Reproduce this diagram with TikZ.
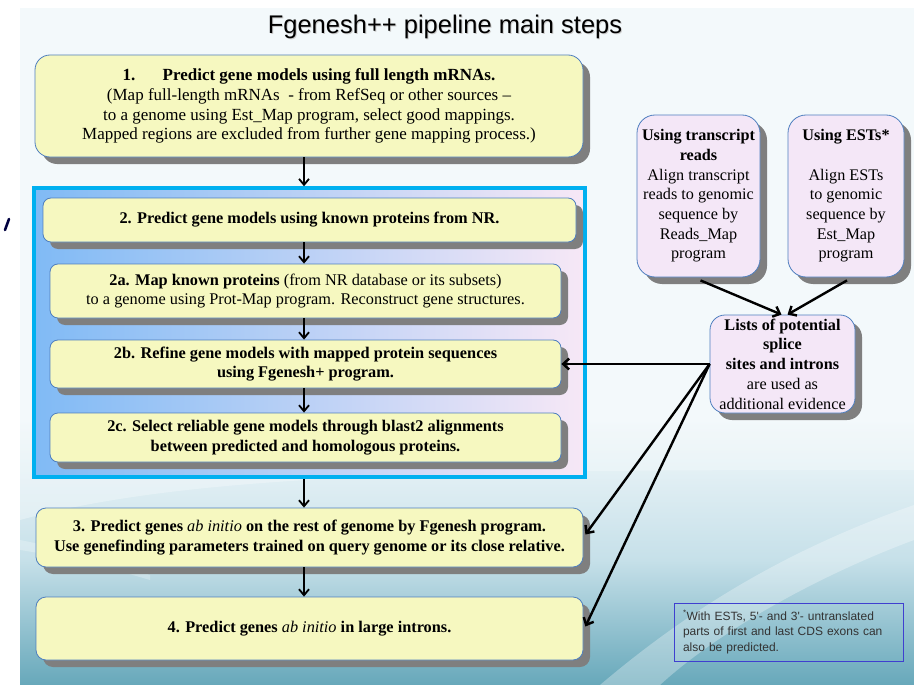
\documentclass[tikz,border=0pt]{standalone}
\usepackage{fontspec}
\setmainfont{Liberation Serif}
\newfontfamily\arialf{Liberation Sans}
\usetikzlibrary{shadows,arrows.meta,calc}
\definecolor{boxy}{HTML}{F6F8C0}
\definecolor{boxb}{HTML}{4F7FBF}
\definecolor{boxp}{HTML}{F4E7F7}
\definecolor{shd}{HTML}{7F7F7F}
\definecolor{framec}{HTML}{00B0F0}
\definecolor{fl}{HTML}{80BAF5}
\definecolor{fr}{HTML}{F7E8F6}
\definecolor{bgl}{HTML}{F3F9FB}
\definecolor{bgm}{HTML}{C6E0E9}
\definecolor{bgt}{HTML}{67A8BA}
\definecolor{footb}{HTML}{3F3FD0}
\tikzset{
  ybox/.style={draw=boxb, line width=0.8pt, fill=boxy, rounded corners=#1, inner sep=0pt,
    align=center, font=\fontsize{16.3}{19.8}\selectfont,
    drop shadow={shadow xshift=7pt, shadow yshift=-7pt, fill=shd, opacity=1}},
  ybox/.default=9pt,
  pbox/.style={draw=boxb, line width=0.8pt, fill=boxp, rounded corners=#1, inner sep=0pt,
    align=center, font=\fontsize{16.2}{19.7}\selectfont,
    drop shadow={shadow xshift=7pt, shadow yshift=-7pt, fill=shd, opacity=1}},
  pbox/.default=16pt,
  frbox/.style={draw=framec, line width=3.5pt, left color=fl, right color=fr, inner sep=0pt},
  footbox/.style={draw=footb, line width=1pt, inner xsep=9pt, inner ysep=0pt, align=left,
    font=\arialf\fontsize{12}{15.5}\selectfont, text=black!80},
  varr/.style={line width=1.8pt, -{Straight Barb[length=6pt,width=10pt]}},
  larr/.style={line width=2.4pt, -{Straight Barb[length=6pt,width=11pt]}},
}
\begin{document}
\begin{tikzpicture}[x=1pt,y=-1pt]
\useasboundingbox (0,0) rectangle (914,685);
% background
\fill[white] (0,0) rectangle (914,685);
\fill[bgl] (20,8) rectangle (914,685);
\shade[top color=bgl, bottom color=bgm] (20,420) rectangle (914,560);
\shade[top color=bgm, bottom color=bgt] (20,560) rectangle (914,685);
\fill[bgl, opacity=0.45] (20,520) .. controls (200,470) and (500,470) .. (914,470) -- (914,420) -- (20,420) -- cycle;
\fill[white, opacity=0.30] (600,685) .. controls (700,600) and (800,545) .. (914,505) -- (914,540) .. controls (820,575) and (720,630) .. (660,685) -- cycle;
\fill[white, opacity=0.25] (20,540) .. controls (60,548) and (110,560) .. (150,575) -- (150,580) .. controls (110,568) and (60,556) .. (20,550) -- cycle;
% stray mark
\draw[line width=2.6pt, color=black!75!blue, line cap=round] (9,219) -- (5,230);
% title
\node[font=\arialf\fontsize{25.5}{30}\selectfont, text=gray!40] at (446,28) {Fgenesh++ pipeline main steps};
\node[font=\arialf\fontsize{25.5}{30}\selectfont] (title) at (445,27) {Fgenesh++ pipeline main steps};
% frame
\node[frbox, minimum width=551pt, minimum height=289pt] (frame) at (309.5,332.5) {};
% yellow boxes
\node[ybox=15pt, minimum width=548pt, minimum height=102pt, font=\fontsize{17}{19.8}\selectfont] (b1) at (309,106)
 {\textbf{1.\hspace{1.6em}Predict gene models using full length mRNAs.}\\
  (Map full-length mRNAs~ - from RefSeq or other sources --\\
  to a genome using Est\_Map program, select good mappings.\\
  Mapped regions are excluded from further gene mapping process.)};
\node[ybox=8pt, minimum width=533pt, minimum height=44pt] (b2) at (309.5,220)
 {\textbf{2. Predict gene models using known proteins from NR.}};
\node[ybox=8pt, minimum width=511pt, minimum height=54pt] (b2a) at (305.5,291)
 {\textbf{2a. Map known proteins} (from NR database or its subsets)\\
  to a genome using Prot-Map program. Reconstruct gene structures.};
\node[ybox=8pt, minimum width=511pt, minimum height=48pt] (b2b) at (305.5,364)
 {\textbf{2b. Refine gene models with mapped protein sequences}\\
  \textbf{using Fgenesh+ program.}};
\node[ybox=8pt, minimum width=511pt, minimum height=49pt] (b2c) at (305.5,437.5)
 {\textbf{2c. Select reliable gene models through blast2 alignments}\\
  \textbf{between predicted and homologous proteins.}};
\node[ybox=10pt, minimum width=547pt, minimum height=59pt] (b3) at (309.5,537.5)
 {\textbf{3. Predict genes \textmd{\textit{ab initio}} on the rest of genome by Fgenesh program.}\\
  \textbf{Use genefinding parameters trained on query genome or its close relative.}};
\node[ybox=10pt, minimum width=547pt, minimum height=63pt] (b4) at (309.5,628.5)
 {\textbf{4. Predict genes \textmd{\textit{ab initio}} in large introns.}};
% purple boxes
\node[pbox=18pt, minimum width=123pt, minimum height=162pt] (tr) at (698.5,196)
 {\textbf{Using transcript}\\ \textbf{reads}\\ Align transcript\\ reads to genomic\\
  sequence by\\ Reads\_Map\\ program};
\node[pbox=18pt, minimum width=116pt, minimum height=162pt] (est) at (846,196)
 {\textbf{Using ESTs*}\\ \strut\\ Align ESTs\\ to genomic\\ sequence by\\ Est\_Map\\ program};
\node[pbox=15pt, minimum width=145pt, minimum height=98pt] (lists) at (782.5,364)
 {\textbf{Lists of potential}\\ \textbf{splice}\\ \textbf{sites and introns}\\
  are used as\\ additional evidence};
% footnote
\node[footbox, text width=211pt, minimum height=58pt] (foot) at (788.5,632)
 {\textsuperscript{*}With ESTs, 5'- and 3'- untranslated\\
  parts of first and last CDS exons can\\ also be predicted.};
% vertical arrows
\coordinate (ax) at (304,0);
\draw[varr] (b1.south -| ax) -- (frame.north -| ax);
\draw[varr] (b2.south -| ax) -- (b2a.north -| ax);
\draw[varr] (b2a.south -| ax) -- (b2b.north -| ax);
\draw[varr] (b2b.south -| ax) -- (b2c.north -| ax);
\draw[varr] (frame.south -| ax) -- (b3.north -| ax);
\draw[varr] (b3.south -| ax) -- (b4.north -| ax);
% evidence arrows
\draw[larr] ($(tr.south)+(2,3)$) -- ($(lists.north)+(-1,0)$);
\draw[larr] ($(est.south)+(1,3)$) -- ($(lists.north)+(5,0)$);
\draw[larr] (lists.west) -- (b2b.east);
\draw[larr] (lists.west) -- ($(b3.east)+(2,-3)$);
\draw[larr] (lists.west) -- ($(b4.east)+(2,-2)$);
\end{tikzpicture}
\end{document}
